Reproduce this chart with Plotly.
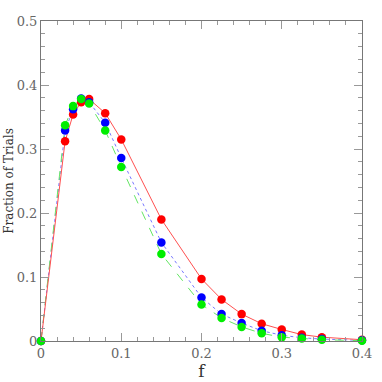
import plotly.graph_objects as go

f = [0, 0.03, 0.04, 0.05, 0.06, 0.08, 0.1, 0.15, 0.2, 0.225, 0.25, 0.275, 0.3, 0.325, 0.35, 0.4]
red = [0, 0.312, 0.354, 0.373, 0.378, 0.356, 0.315, 0.190, 0.097, 0.065, 0.042, 0.027, 0.018, 0.010, 0.006, 0.002]
blue = [0, 0.329, 0.362, 0.379, 0.373, 0.341, 0.286, 0.154, 0.068, 0.042, 0.028, 0.016, 0.009, 0.005, 0.003, 0.001]
green = [0, 0.337, 0.367, 0.378, 0.371, 0.329, 0.272, 0.136, 0.057, 0.036, 0.022, 0.012, 0.006, 0.004, 0.002, 0.0005]

xticks = [0, 0.1, 0.2, 0.3, 0.4]
xlabels = ['0', '0.1', '0.2', '0.3', '0.4']
yticks = [0, 0.1, 0.2, 0.3, 0.4, 0.5]
ylabels = ['0', '0.1', '0.2', '0.3', '0.4', '0.5']

series = [
    (blue, '#0000ff', 'dot', 'rgb(120,120,255)'),
    (green, '#00ee00', 'dash', 'rgb(100,230,100)'),
    (red, '#ff0000', 'solid', 'rgb(255,80,80)'),
]

fig = go.Figure()
for ys, col, dash, lcol in series:
    fig.add_trace(go.Scatter(x=f, y=ys, mode='lines', cliponaxis=False,
                             line=dict(color=lcol, width=1, dash=dash),
                             hoverinfo='none'))
# markers on top, order as in picture
for ys, col, dash, lcol in [series[2], series[0], series[1]]:
    fig.add_trace(go.Scatter(x=f, y=ys, mode='markers', cliponaxis=False,
                             marker=dict(color=col, size=8.5),
                             hoverinfo='none'))

font = dict(family='DejaVu Serif', color='#666666', size=13)

axis = dict(showline=True, linecolor='#777777', linewidth=1, mirror='ticks',
            ticks='inside', ticklen=8, tickcolor='#999999', tickwidth=1,
            showgrid=False, zeroline=False, tickfont=font, automargin=False)

fig.update_layout(
    width=382, height=382,
    margin=dict(l=41, r=20, t=21, b=41),
    showlegend=False,
    plot_bgcolor='white', paper_bgcolor='white',
    xaxis=dict(axis, range=[0, 0.4], tickvals=xticks, ticktext=xlabels,
               minor=dict(dtick=0.02, ticks='inside', ticklen=4, tickcolor='#999999'),
               title=dict(text='f', font=dict(family='DejaVu Serif', size=17, color='#333333'), standoff=0)),
    yaxis=dict(axis, range=[0, 0.5], tickvals=yticks, ticktext=ylabels,
               minor=dict(dtick=0.02, ticks='inside', ticklen=4, tickcolor='#999999'),
               title=dict(text='Fraction of Trials', font=dict(family='DejaVu Serif', size=12, color='#333333'), standoff=0)),
)

fig.write_html('out.html', config={'displayModeBar': False},
               post_script="document.body.style.margin='0px';")
